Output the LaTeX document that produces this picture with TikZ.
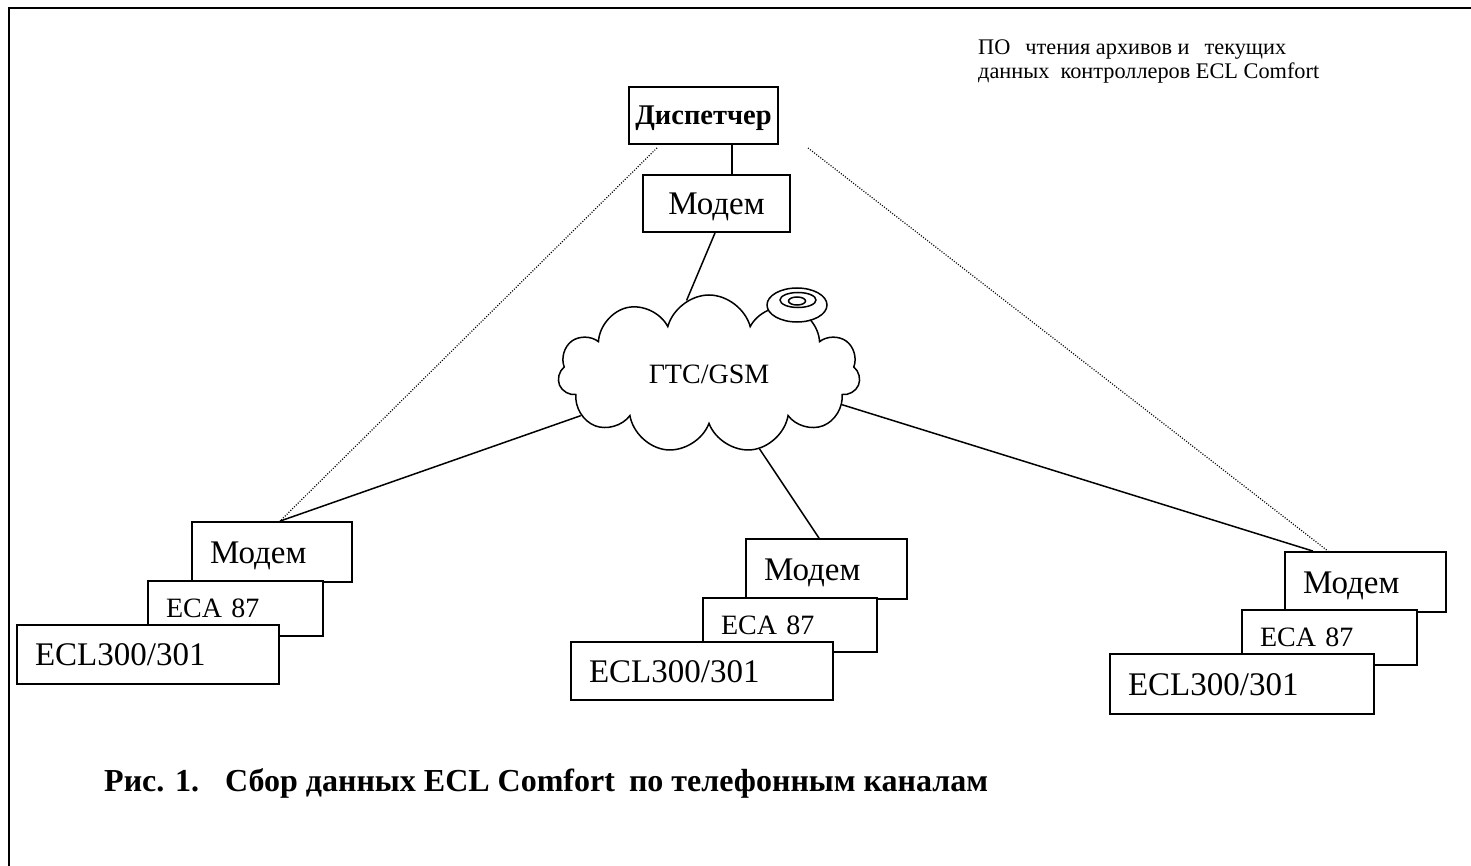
\documentclass[tikz,border=0pt]{standalone}
\usepackage{fontspec}
\setmainfont{Liberation Serif}
\usetikzlibrary{shapes.symbols,calc}
\begin{document}
\begin{tikzpicture}[x=1pt,y=-1pt,
  box/.style={draw,line width=1.8pt,fill=white,inner sep=0pt,anchor=center},
  lbox/.style={box,align=left,inner xsep=18pt,text height=22pt,text depth=0pt},
  big/.style={font=\fontsize{33}{36}\selectfont},
  mid/.style={font=\fontsize{28}{30}\selectfont,text height=18.5pt},
  wire/.style={line width=1.5pt},
  dots/.style={line width=1.2pt,dash pattern=on 1pt off 1.6pt}]
\useasboundingbox (0,0) rectangle (1471,866);
\draw[line width=2.5pt] (9,866) -- (9,8) -- (1471,8);

% top
\node[box,font=\fontsize{28.5}{30}\selectfont\bfseries,minimum width=149pt,minimum height=57pt,text height=19pt,text depth=0pt] (disp) at (703.5,115.5) {Диспетчер};
\node[box,big,minimum width=147pt,minimum height=57pt,text height=22pt,text depth=0pt] (m0) at (716.5,203.5) {Модем};

% cloud
\node[cloud,draw,line width=1.5pt,cloud puffs=11,aspect=1.9,minimum width=302pt,minimum height=158pt,inner sep=0pt,font=\fontsize{28}{30}\selectfont] (net) at (709,374) {ГТС/GSM};
\draw[line width=1.5pt,fill=white] (797,305) ellipse [x radius=30pt,y radius=17pt];
\draw[line width=1.5pt] (798,300) ellipse [x radius=18pt,y radius=7.5pt];
\draw[line width=1.5pt] (797,301) ellipse [x radius=8.5pt,y radius=4pt];

% left group
\node[lbox,big,text width=124pt,minimum height=60pt] (m1) at (272,552) {Модем};
\node[lbox,mid,text width=139pt,minimum height=55pt] (e1) at (235.5,608.5) {ECA 87};
\node[lbox,big,text width=226pt,minimum height=59pt] (c1) at (148,654.5) {ECL300/301};

% middle group
\node[lbox,big,text width=125pt,minimum height=60pt] (m2) at (826.5,569) {Модем};
\node[lbox,mid,text width=138pt,minimum height=54pt] (e2) at (790,625) {ECA 87};
\node[lbox,big,text width=226pt,minimum height=58pt] (c2) at (702,671) {ECL300/301};

% right group
\node[lbox,big,text width=125pt,minimum height=60pt] (m3) at (1365.5,582) {Модем};
\node[lbox,mid,text width=139pt,minimum height=55pt] (e3) at (1329.5,637.5) {ECA 87};
\node[lbox,big,text width=228pt,minimum height=60pt] (c3) at (1242,684) {ECL300/301};

% connectors
\draw[line width=1.5pt] ($(disp.south)+(28.5,0)$) -- ($(m0.north)+(15.5,0)$);
\draw[wire] ($(m0.south)+(-1.5,0)$) -- (net.107);
\draw[wire] (net.198) -- ($(m1.north)+(8,0)$);
\draw[wire] (net.304) -- ($(m2.north)+(-7.5,0)$);
\draw[wire] (net.347) -- ($(m3.north)+(-52.5,0)$);
\coordinate (dr) at (808,148);
\draw[dots] ($(disp.south)+(-46.5,3)$) -- ($(m1.north)+(8,0)$);
\draw[dots] (dr) -- ($(m3.north)+(-37.5,0)$);

% texts
\node[anchor=base west,inner sep=0pt,align=left,font=\fontsize{22.3}{24}\selectfont] (note) at (978,79) {ПО\hspace{15pt}чтения архивов и\hspace{15pt}текущих\\данных\ \ контроллеров ECL Comfort};
\node[anchor=base west,inner sep=0pt,font=\fontsize{32}{34}\selectfont\bfseries] (cap) at (104,791) {Рис. 1.\hspace{26pt}Сбор данных ECL Comfort\hspace{14pt}по телефонным каналам};
\end{tikzpicture}
\end{document}
